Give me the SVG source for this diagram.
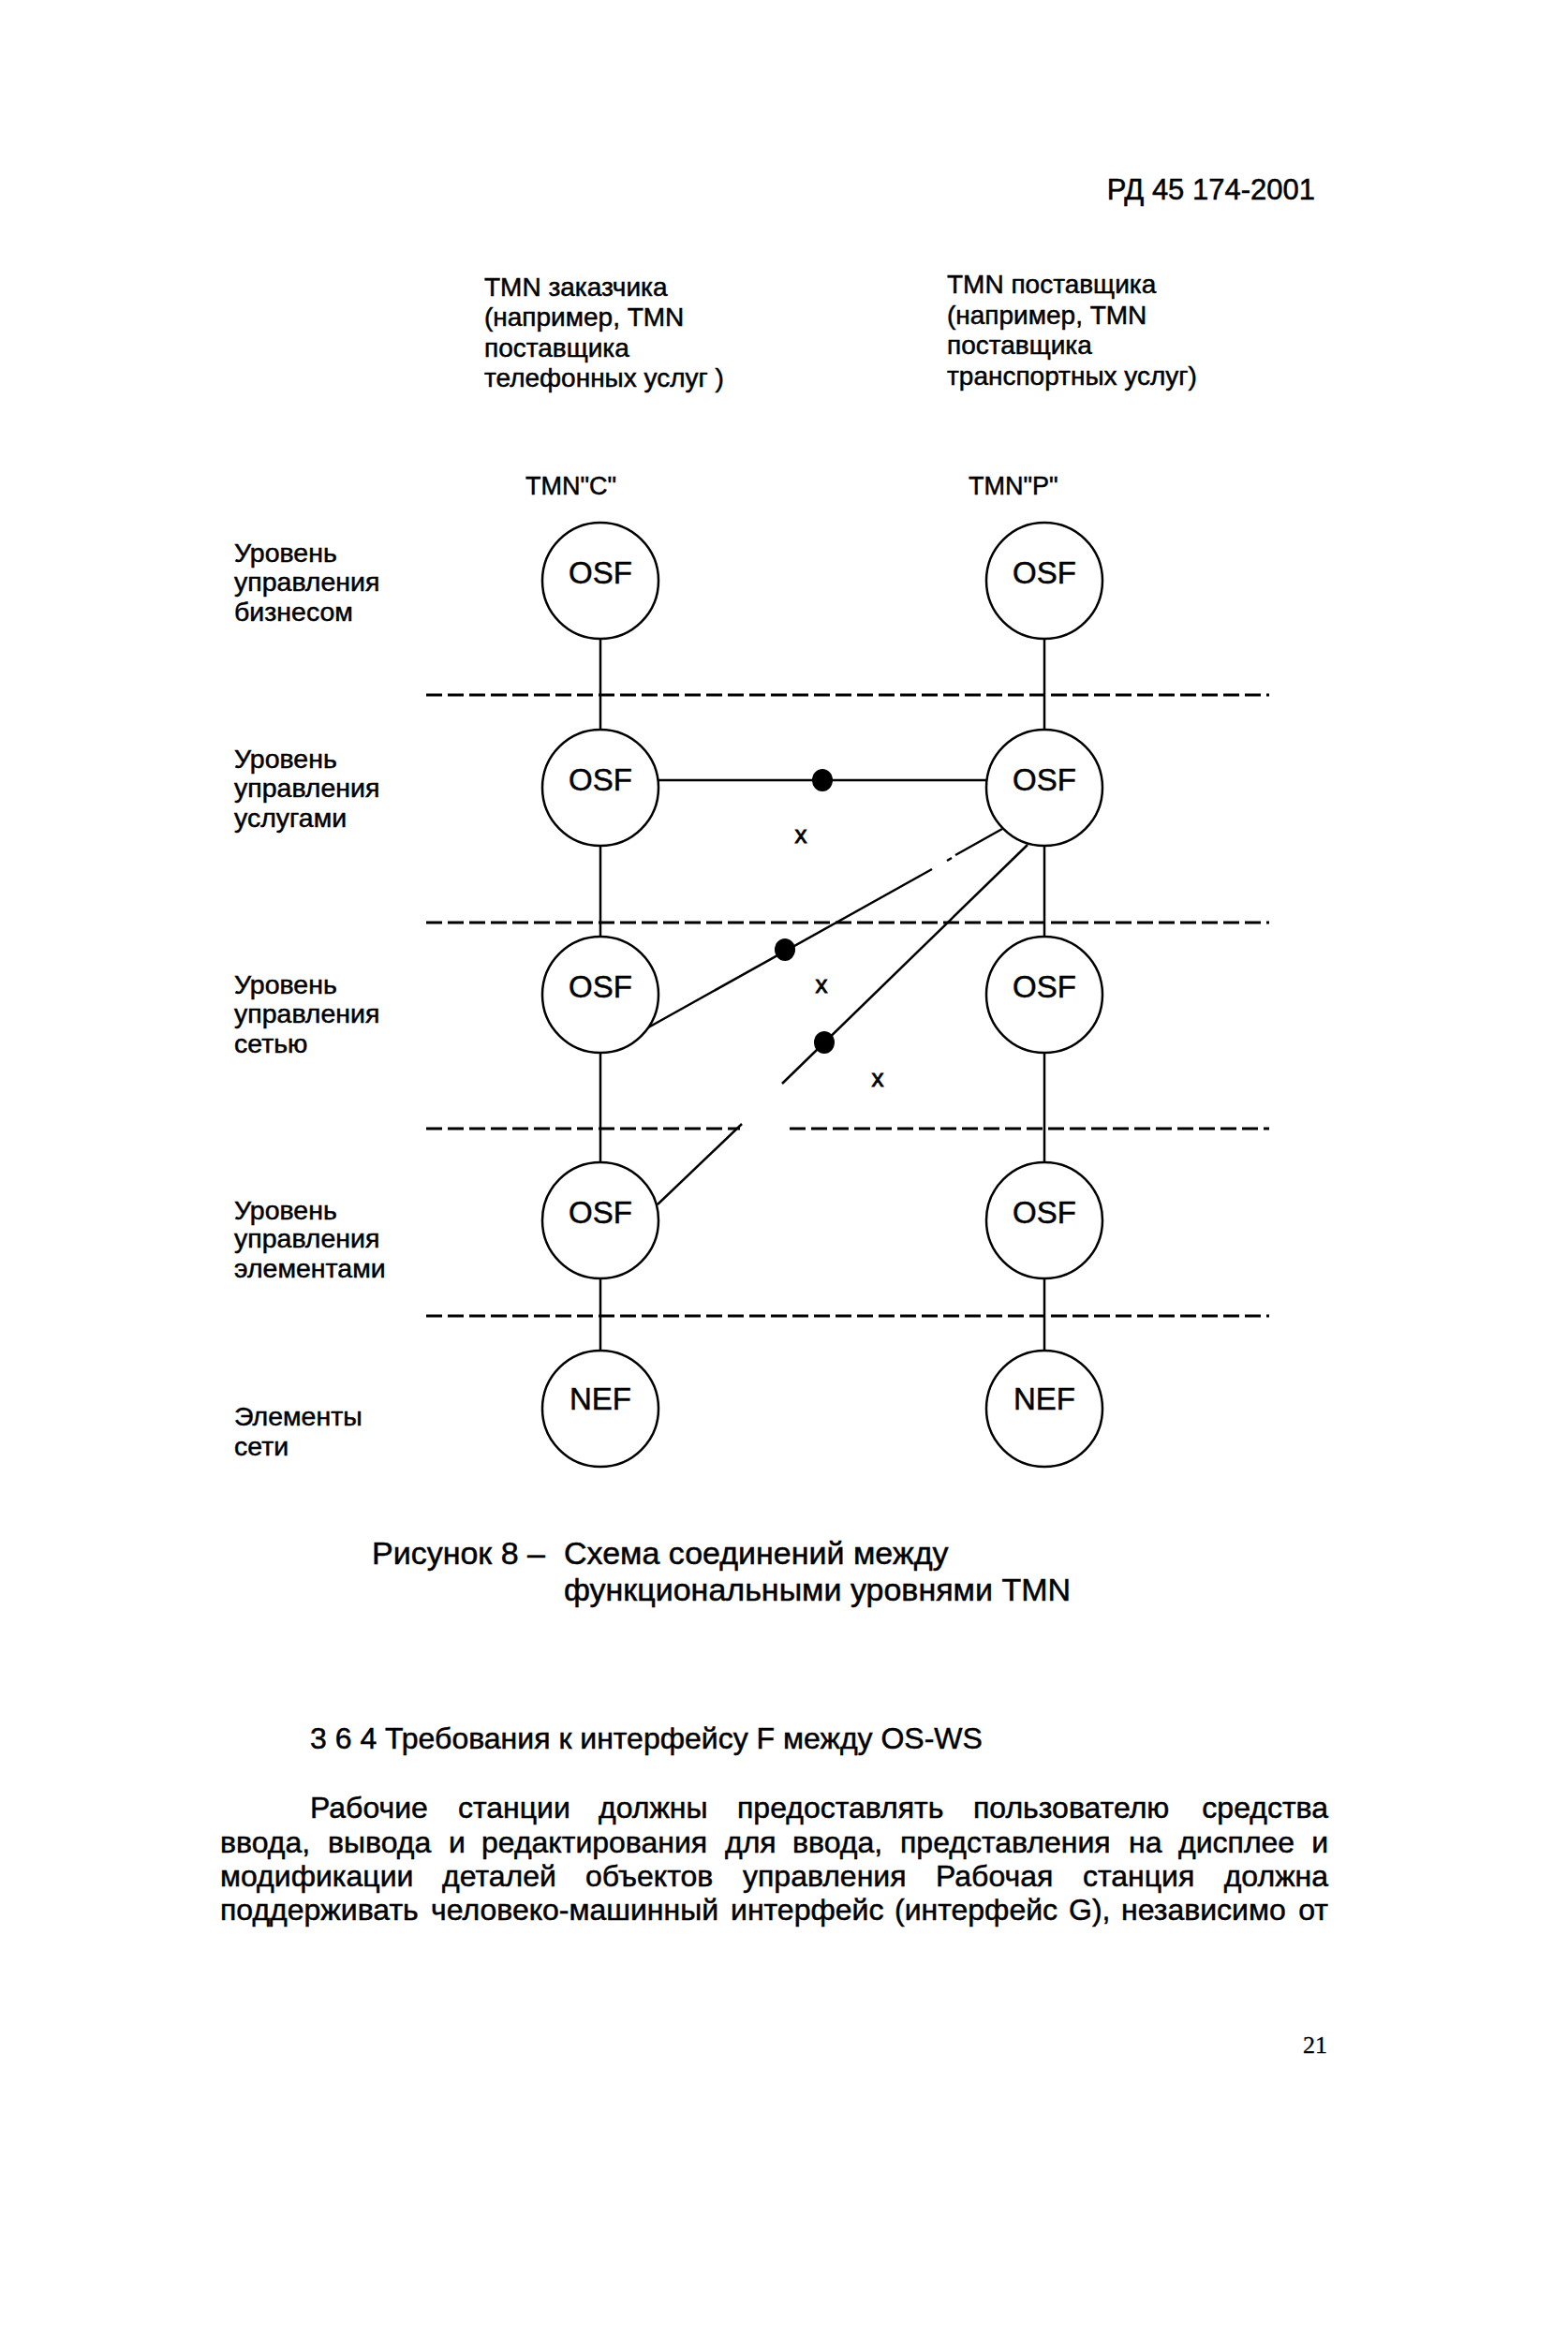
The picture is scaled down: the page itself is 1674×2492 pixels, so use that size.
<svg xmlns="http://www.w3.org/2000/svg" width="1674" height="2492" viewBox="0 0 1674 2492">
<style>
text{font-family:"Liberation Sans",Arial,sans-serif;fill:#000;stroke:#000;stroke-width:0.5}
.hdr{font-size:28px;stroke-width:0.8}
.lvl{font-size:28.5px;stroke-width:0.8}
.node ellipse{fill:#fff;stroke:#000;stroke-width:2.5}
.node text{font-size:33px;text-anchor:middle}
.conn line{stroke:#000;stroke-width:2.5;fill:none}
.dash line{stroke:#000;stroke-width:3;stroke-dasharray:17 6}
.dot{fill:#000}
.mark{font-size:26px;text-anchor:middle;stroke-width:0.8}
.body{font-size:32px}
.cap{font-size:34px}
</style>
<rect width="1674" height="2492" fill="#fff"/>

<text x="1404" y="213" style="font-size:31px" text-anchor="end">РД 45 174-2001</text>

<g id="header-customer" class="hdr">
<text x="517" y="316">TMN заказчика</text>
<text x="517" y="348">(например, TMN</text>
<text x="517" y="381">поставщика</text>
<text x="517" y="413">телефонных услуг )</text>
</g>
<g id="header-provider" class="hdr">
<text x="1011" y="313">TMN поставщика</text>
<text x="1011" y="346">(например, TMN</text>
<text x="1011" y="378">поставщика</text>
<text x="1011" y="411">транспортных услуг)</text>
</g>
<text x="561" y="528" style="font-size:27px">TMN"C"</text>
<text x="1034" y="528" style="font-size:27px">TMN"P"</text>

<g id="levels" class="lvl">
<text x="250" y="600">Уровень</text>
<text x="250" y="631">управления</text>
<text x="250" y="663">бизнесом</text>
<text x="250" y="820">Уровень</text>
<text x="250" y="851">управления</text>
<text x="250" y="883">услугами</text>
<text x="250" y="1061">Уровень</text>
<text x="250" y="1092">управления</text>
<text x="250" y="1124">сетью</text>
<text x="250" y="1302">Уровень</text>
<text x="250" y="1332">управления</text>
<text x="250" y="1364">элементами</text>
<text x="250" y="1522">Элементы</text>
<text x="250" y="1554">сети</text>
</g>

<g id="dividers" class="dash">
<line x1="455" y1="742" x2="1355" y2="742"/>
<line x1="455" y1="985" x2="1355" y2="985"/>
<line x1="455" y1="1205" x2="790" y2="1205"/>
<line x1="843" y1="1205" x2="1355" y2="1205"/>
<line x1="455" y1="1405" x2="1355" y2="1405"/>
</g>

<g id="connectors" class="conn">
<line x1="641" y1="682" x2="641" y2="779"/>
<line x1="641" y1="903" x2="641" y2="1000"/>
<line x1="641" y1="1124" x2="641" y2="1241"/>
<line x1="641" y1="1365" x2="641" y2="1442"/>
<line x1="1115" y1="682" x2="1115" y2="779"/>
<line x1="1115" y1="903" x2="1115" y2="1000"/>
<line x1="1115" y1="1124" x2="1115" y2="1241"/>
<line x1="1115" y1="1365" x2="1115" y2="1442"/>
<line x1="703" y1="833" x2="1053" y2="833"/>
<line x1="1070" y1="885" x2="1020" y2="913"/>
<line x1="1016" y1="916" x2="1011" y2="919"/>
<line x1="995" y1="928" x2="685" y2="1101"/>
<line x1="1097" y1="902" x2="835" y2="1157"/>
<line x1="792" y1="1200" x2="702" y2="1286"/>
<ellipse class="dot" cx="878" cy="833" rx="11" ry="12"/>
<ellipse class="dot" cx="838" cy="1014" rx="11" ry="12"/>
<ellipse class="dot" cx="880" cy="1113" rx="11" ry="12"/>
</g>
<text class="mark" x="855" y="900">x</text>
<text class="mark" x="877" y="1060">x</text>
<text class="mark" x="937" y="1160">x</text>

<g id="c-osf-business" class="node"><ellipse cx="641" cy="620" rx="62" ry="62"/><text x="641" y="623">OSF</text></g>
<g id="c-osf-service" class="node"><ellipse cx="641" cy="841" rx="62" ry="62"/><text x="641" y="844">OSF</text></g>
<g id="c-osf-network" class="node"><ellipse cx="641" cy="1062" rx="62" ry="62"/><text x="641" y="1065">OSF</text></g>
<g id="c-osf-element" class="node"><ellipse cx="641" cy="1303" rx="62" ry="62"/><text x="641" y="1306">OSF</text></g>
<g id="c-nef" class="node"><ellipse cx="641" cy="1504" rx="62" ry="62"/><text x="641" y="1505">NEF</text></g>
<g id="p-osf-business" class="node"><ellipse cx="1115" cy="620" rx="62" ry="62"/><text x="1115" y="623">OSF</text></g>
<g id="p-osf-service" class="node"><ellipse cx="1115" cy="841" rx="62" ry="62"/><text x="1115" y="844">OSF</text></g>
<g id="p-osf-network" class="node"><ellipse cx="1115" cy="1062" rx="62" ry="62"/><text x="1115" y="1065">OSF</text></g>
<g id="p-osf-element" class="node"><ellipse cx="1115" cy="1303" rx="62" ry="62"/><text x="1115" y="1306">OSF</text></g>
<g id="p-nef" class="node"><ellipse cx="1115" cy="1504" rx="62" ry="62"/><text x="1115" y="1505">NEF</text></g>

<g id="caption" class="cap">
<text x="397" y="1670">Рисунок 8 –</text>
<text x="602" y="1670">Схема соединений между</text>
<text x="602" y="1709">функциональными уровнями TMN</text>
</g>

<g id="section" class="body">
<text x="331" y="1867">3 6 4 Требования к интерфейсу F между OS-WS</text>
<text y="1941"><tspan x="331">Рабочие</tspan><tspan x="489">станции</tspan><tspan x="639">должны</tspan><tspan x="787">предоставлять</tspan><tspan x="1039">пользователю</tspan><tspan x="1418" text-anchor="end">средства</tspan></text>
<text y="1978"><tspan x="235">ввода,</tspan><tspan x="350">вывода</tspan><tspan x="479">и</tspan><tspan x="514">редактирования</tspan><tspan x="774">для</tspan><tspan x="846">ввода,</tspan><tspan x="961">представления</tspan><tspan x="1205">на</tspan><tspan x="1258">дисплее</tspan><tspan x="1418" text-anchor="end">и</tspan></text>
<text y="2014"><tspan x="235">модификации</tspan><tspan x="472">деталей</tspan><tspan x="625">объектов</tspan><tspan x="793">управления</tspan><tspan x="999">Рабочая</tspan><tspan x="1156">станция</tspan><tspan x="1418" text-anchor="end">должна</tspan></text>
<text y="2050"><tspan x="235">поддерживать</tspan><tspan x="460">человеко-машинный</tspan><tspan x="780">интерфейс</tspan><tspan x="955">(интерфейс</tspan><tspan x="1141">G),</tspan><tspan x="1197">независимо</tspan><tspan x="1418" text-anchor="end">от</tspan></text>
</g>

<text x="1404" y="2192" style="font-family:'Liberation Serif',serif;font-size:26px;stroke-width:0.3" text-anchor="middle">21</text>
</svg>
